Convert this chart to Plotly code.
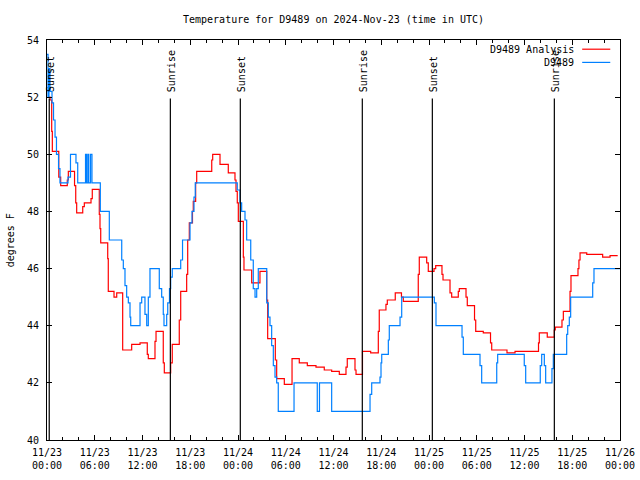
import pandas as pd
import plotly.graph_objects as go

base = pd.Timestamp("2024-11-23 00:00")

# D9489 Analysis (red), hours after 11/23 00:00 UTC and degrees F (step values)
red_hours = [0.13, 0.38, 0.59, 0.67, 1.48, 1.72, 2.55, 2.68, 3.46, 3.61, 3.73, 4.49, 4.69,
             5.53, 5.69, 6.57, 6.66, 6.75, 7.63, 7.70, 8.42, 8.76, 9.51, 10.64, 11.69, 12.60,
             12.73, 13.57, 13.70, 14.61, 14.74, 15.54, 15.74, 16.62, 16.80, 17.55, 17.68, 17.88,
             18.28, 18.38, 18.68, 18.81, 20.70, 20.82, 21.74, 22.78, 23.62, 23.75, 23.91, 24.04,
             24.67, 24.75, 25.72, 26.76, 27.61, 27.73, 28.69, 28.86, 29.82, 30.79, 31.70, 32.71,
             33.80, 34.84, 35.77, 36.73, 37.57, 37.73, 38.70, 38.83, 39.64, 40.67, 41.63, 41.75,
             42.59, 42.76, 43.76, 44.54, 44.77, 46.65, 46.78, 47.71, 47.91, 48.63, 48.84, 49.63,
             49.76, 50.64, 50.85, 51.68, 51.81, 52.65, 52.81, 53.72, 53.87, 54.82, 55.73, 55.88,
             57.80, 58.81, 61.76, 61.86, 62.86, 63.74, 63.87, 64.71, 64.88, 65.72, 65.84, 66.72,
             66.84, 66.98, 67.82, 69.82, 70.75, 71.71]
red_temps = [52.0, 51.9, 50.8, 50.1, 49.2, 48.9, 49.1, 49.4, 48.9, 48.3, 47.95, 48.17, 48.3,
             48.45, 48.77, 47.9, 47.4, 46.9, 46.35, 45.2, 45.0, 45.15, 43.15, 43.35, 43.4, 43.0,
             42.85, 43.45, 43.8, 42.7, 42.35, 42.7, 43.35, 44.2, 45.2, 45.8, 47.0, 47.6,
             48.0, 48.35, 49.0, 49.4, 49.8, 50.0, 49.65, 49.35, 49.1, 48.7, 48.3, 47.65,
             46.4, 45.95, 45.5, 45.9, 44.9, 43.55, 42.8, 42.15, 41.95, 42.85, 42.7, 42.6,
             42.55, 42.45, 42.4, 42.3, 42.55, 42.85, 42.45, 42.3, 43.1, 43.05, 43.8, 44.55,
             44.75, 44.9, 45.15, 45.0, 44.85, 45.8, 46.4, 46.2, 45.9, 46.0, 46.1, 45.8,
             45.6, 45.15, 45.0, 45.2, 45.3, 45.0, 44.7, 44.2, 43.8, 43.75, 43.4, 43.15,
             43.05, 43.1, 43.4, 43.75, 43.6, 43.85, 43.95, 44.2, 44.5, 45.2, 45.75, 46.0,
             46.3, 46.55, 46.5, 46.4, 46.45, 46.45]

# D9489 observations (blue)
blue_hours = [0.00, 0.13, 0.25, 0.38, 0.63, 0.82, 1.01, 1.19, 1.45, 1.63, 2.64, 2.95, 3.64,
              3.86, 4.84, 4.96, 5.13, 5.25, 5.47, 5.65, 6.70, 7.83, 9.39, 9.59, 9.80, 10.01,
              10.22, 10.43, 10.52, 11.69, 11.90, 12.31, 12.53, 12.73, 12.94, 14.11, 14.41, 14.61,
              14.70, 15.04, 15.17, 15.39, 15.54, 15.74, 16.80, 17.03, 17.97, 18.22, 18.47, 18.63,
              23.91, 24.25, 24.46, 24.88, 25.09, 25.60, 25.92, 26.14, 26.35, 26.55, 27.61, 27.81,
              28.02, 28.23, 28.44, 28.65, 28.86, 29.06, 31.04, 33.96, 34.24, 35.77, 40.59, 40.80,
              41.84, 41.97, 42.06, 42.89, 43.01, 44.36, 44.57, 48.67, 48.88, 52.15, 52.31, 54.41,
              54.62, 56.51, 56.63, 59.97, 60.15, 61.98, 62.16, 62.49, 62.66, 63.45, 63.62, 65.30,
              65.43, 65.63, 65.80, 68.57, 68.73, 72.00]
blue_temps = [53.5, 52.0, 53.0, 52.2, 51.8, 51.2, 50.6, 50.0, 49.5, 49.0, 49.2, 50.0, 49.7,
              49.0, 50.0, 49.0, 50.0, 49.0, 50.0, 49.0, 48.0, 47.0, 46.3, 46.0, 45.4, 45.0,
              44.8, 44.3, 44.0, 44.8, 45.0, 44.4, 44.0, 45.0, 46.0, 45.3, 45.0, 44.4,
              44.0, 44.4, 44.8, 45.3, 45.7, 46.0, 46.3, 47.0, 47.6, 48.0, 48.5, 49.0,
              48.75, 48.3, 48.0, 47.7, 47.0, 46.3, 45.3, 45.0, 45.3, 46.0, 44.8, 44.3,
              44.0, 43.3, 42.6, 42.2, 42.0, 41.0, 42.0, 41.0, 42.0, 41.0, 41.6, 42.0,
              42.2, 42.7, 43.0, 43.5, 44.0, 44.3, 45.0, 44.8, 44.0, 43.6, 43.0, 42.6,
              42.0, 42.7, 43.0, 42.6, 42.0, 42.6, 43.0, 42.6, 42.0, 42.5, 43.0, 43.7,
              44.0, 44.3, 45.0, 45.5, 46.0, 46.0]

sun_hours = [0.28, 15.50, 24.29, 39.62, 48.42, 63.75]
sun_labels = ["Sunset", "Sunrise", "Sunset", "Sunrise", "Sunset", "Sunrise"]

series_names = ["D9489 Analysis", "D9489"]
series_colors = ["#ff0000", "#0080ff"]


def to_time(hours):
    return [base + pd.Timedelta(hours=h) for h in hours]


FONT = "DejaVu Sans Mono"
fig = go.Figure()
fig.add_trace(go.Scatter(x=to_time(red_hours), y=red_temps, mode="lines",
                         line=dict(color=series_colors[0], width=1.2, shape="hv"),
                         name=series_names[0], showlegend=False))
fig.add_trace(go.Scatter(x=to_time(blue_hours), y=blue_temps, mode="lines",
                         line=dict(color=series_colors[1], width=1.2, shape="hv"),
                         name=series_names[1], showlegend=False))

shapes = []
annotations = []
for h, lab in zip(sun_hours, sun_labels):
    t = base + pd.Timedelta(hours=h)
    shapes.append(dict(type="line", xref="x", yref="y", x0=t, x1=t, y0=40, y1=51.95,
                       line=dict(color="black", width=1.2)))
    annotations.append(dict(x=t, y=52.15, xref="x", yref="y", text=lab, textangle=-90,
                            showarrow=False, xanchor="center", yanchor="bottom", xshift=2,
                            borderpad=0, font=dict(family=FONT, size=10, color="black")))

# legend (gnuplot style: text then sample line)
leg_y = [0.977, 0.944]
for name, col, yy in zip(series_names, series_colors, leg_y):
    annotations.append(dict(x=0.923, y=yy, xref="paper", yref="paper", text=name,
                            showarrow=False, xanchor="right", yanchor="middle",
                            font=dict(family=FONT, size=10, color="black")))
    shapes.append(dict(type="line", xref="paper", yref="paper", x0=0.934, x1=0.983,
                       y0=yy, y1=yy, line=dict(color=col, width=1.2)))

annotations.append(dict(x=-0.064, y=0.5, xref="paper", yref="paper", text="degrees F",
                        textangle=-90, showarrow=False, xanchor="center", yanchor="middle",
                        font=dict(family=FONT, size=10, color="black")))

fig.update_layout(
    width=640, height=480,
    margin=dict(l=47, r=20, t=40, b=40, autoexpand=False),
    paper_bgcolor="white", plot_bgcolor="white",
    font=dict(family=FONT, size=10, color="black"),
    title=dict(text="Temperature for D9489 on 2024-Nov-23 (time in UTC)",
               x=0.5, xref="paper", xanchor="center", y=1 - 19 / 480, yref="container",
               yanchor="middle", font=dict(family=FONT, size=10, color="black")),
    shapes=shapes, annotations=annotations,
)
fig.update_xaxes(
    type="date", range=[base, base + pd.Timedelta(hours=72)], automargin=False,
    tickmode="linear", tick0=base, dtick=6 * 3600 * 1000, tickformat="%m/%d<br>%H:%M",
    ticks="inside", ticklen=5, tickcolor="black", showline=True, linecolor="black",
    linewidth=1, mirror="ticks", showgrid=False, zeroline=False, ticklabelstandoff=3,
    minor=dict(tickmode="linear", tick0=base, dtick=2 * 3600 * 1000, ticks="inside",
               ticklen=3, tickcolor="black", showgrid=False),
    tickfont=dict(family=FONT, size=10, color="black"),
)
fig.update_yaxes(
    range=[40, 54], tickmode="linear", tick0=40, dtick=2, automargin=False,
    ticks="inside", ticklen=5, tickcolor="black", showline=True, linecolor="black",
    linewidth=1, mirror="ticks", showgrid=False, zeroline=False, ticklabelstandoff=5,
    tickfont=dict(family=FONT, size=10, color="black"),
)
fig.write_html("out.html", config={"displayModeBar": False},
               post_script="document.body.style.margin='0';")
